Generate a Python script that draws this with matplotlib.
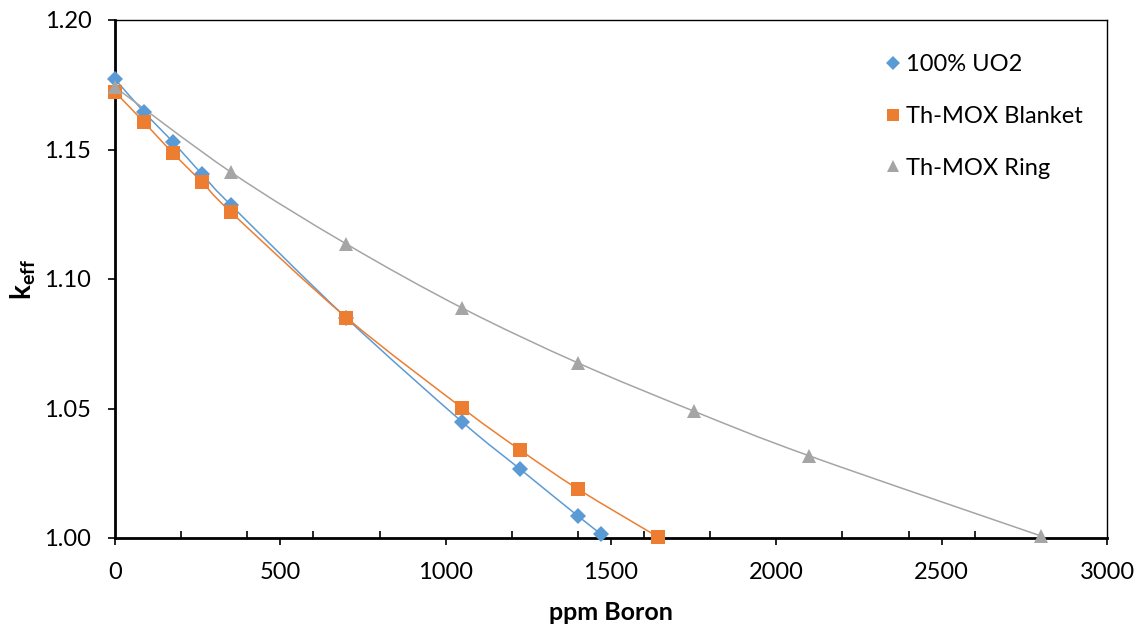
import matplotlib.pyplot as plt
import numpy as np
from matplotlib.path import Path
from matplotlib.patches import PathPatch
from matplotlib.ticker import MultipleLocator

# Концентрация бора (ppm) и k_eff для трёх вариантов загрузки
uo2_ppm = [0, 87.5, 175, 262.5, 350, 700, 1050, 1225, 1400, 1470]
uo2_keff = [1.1772, 1.1645, 1.1529, 1.1405, 1.1286, 1.0849, 1.0448, 1.0266, 1.0085, 1.0015]

blanket_ppm = [0, 87.5, 175, 262.5, 350, 700, 1050, 1225, 1400, 1642]
blanket_keff = [1.1722, 1.1606, 1.1486, 1.1375, 1.1259, 1.0851, 1.0502, 1.0340, 1.0189, 1.0004]

ring_ppm = [0, 350, 700, 1050, 1400, 1750, 2100, 2800]
ring_keff = [1.1741, 1.1413, 1.1135, 1.0888, 1.0676, 1.0490, 1.0317, 1.0008]

labels = ['100% UO2', 'Th-MOX Blanket', 'Th-MOX Ring']
colors = ['#5B9BD5', '#ED7D31', '#A5A5A5']
markers = ['D', 's', '^']
msizes = [8, 10, 10]

plt.rcParams['font.family'] = ['Lato', 'DejaVu Sans']
plt.rcParams['mathtext.fontset'] = 'custom'
plt.rcParams['mathtext.rm'] = 'Lato'
plt.rcParams['mathtext.bf'] = 'Lato:bold'


def smooth_path(x, y, tension=1 / 6):
    """Сглаженная линия (как в Excel) через кубические Безье"""
    x = np.asarray(x, float)
    y = np.asarray(y, float)
    n = len(x)
    verts = [(x[0], y[0])]
    codes = [Path.MOVETO]
    for i in range(n - 1):
        p0 = (x[max(i - 1, 0)], y[max(i - 1, 0)])
        p1 = (x[i], y[i])
        p2 = (x[i + 1], y[i + 1])
        p3 = (x[min(i + 2, n - 1)], y[min(i + 2, n - 1)])
        c1 = (p1[0] + (p2[0] - p0[0]) * tension, p1[1] + (p2[1] - p0[1]) * tension)
        c2 = (p2[0] - (p3[0] - p1[0]) * tension, p2[1] - (p3[1] - p1[1]) * tension)
        verts += [c1, c2, p2]
        codes += [Path.CURVE4] * 3
    return Path(verts, codes)


fig = plt.figure(figsize=(11.43, 6.28), dpi=100)
ax = fig.add_axes([115 / 1143, 1 - 538 / 628, 992 / 1143, 518 / 628])

series = [(uo2_ppm, uo2_keff), (blanket_ppm, blanket_keff), (ring_ppm, ring_keff)]
for (xs, ys), lab, c, m, ms in zip(series, labels, colors, markers, msizes):
    ax.add_patch(PathPatch(smooth_path(xs, ys), facecolor='none', edgecolor=c,
                           linewidth=1.1, zorder=2, clip_on=False))
    ax.plot(xs, ys, linestyle='none', marker=m, markersize=ms, color=c,
            markeredgewidth=0, label=lab, zorder=3, clip_on=False)

ax.set_xlim(0, 3000)
ax.set_ylim(1.00, 1.20)

# Основные деления снаружи, дополнительные по оси X внутрь
ax.xaxis.set_major_locator(MultipleLocator(500))
ax.xaxis.set_minor_locator(MultipleLocator(200))
ax.yaxis.set_major_locator(MultipleLocator(0.05))
ax.yaxis.set_major_formatter(plt.FormatStrFormatter('%.2f'))
ax.tick_params(axis='x', which='major', direction='out', length=5, width=1.2,
               labelsize=17, pad=12)
ax.tick_params(axis='x', which='minor', direction='in', length=5, width=1.2)
ax.tick_params(axis='y', which='major', direction='out', length=5, width=1.2,
               labelsize=17, pad=12)

for side in ['left', 'bottom']:
    ax.spines[side].set_linewidth(2)
for side in ['top', 'right']:
    ax.spines[side].set_linewidth(1)

ax.set_xlabel('ppm Boron', fontsize=18, fontweight='bold', labelpad=13)
ax.set_ylabel(r'$\mathbf{k_{eff}}$', fontsize=20, labelpad=5)

leg = ax.legend(loc='upper right', bbox_to_anchor=(0.997, 0.975), frameon=False,
                fontsize=17, handlelength=0.8, handletextpad=0.15,
                labelspacing=1.3, borderaxespad=0.5, markerscale=0.85)

plt.savefig('out.png', dpi=100)
